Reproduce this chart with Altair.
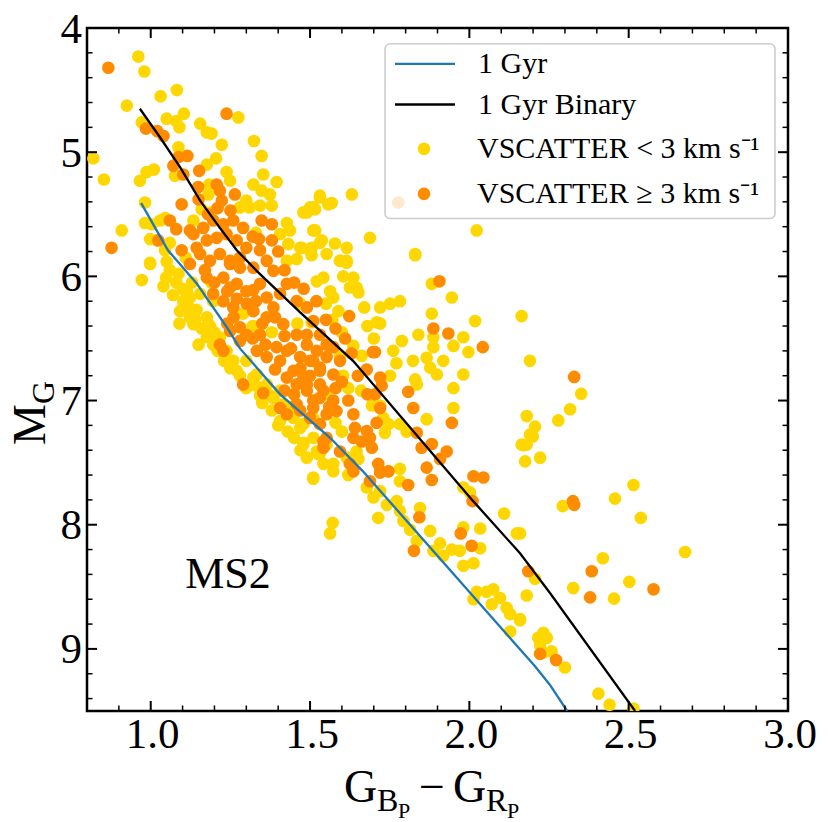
import altair as alt
import pandas as pd

# ---------------- data ----------------
L1 = "1 Gyr"
L2 = "1 Gyr Binary"
L3 = "VSCATTER < 3 km s⁻¹"
L4 = "VSCATTER ≥ 3 km s⁻¹"

iso_x = [0.97, 1.054, 1.145, 1.239, 1.28, 1.406, 1.563, 1.666, 2.206, 2.253, 2.307]
iso_y = [5.41, 5.79, 6.06, 6.41, 6.58, 6.95, 7.30, 7.57, 9.14, 9.29, 9.50]

bin_x = [0.966, 1.029, 1.092, 1.155, 1.217, 1.27, 1.334, 1.469, 1.635, 2.012, 2.159, 2.253, 2.52]
bin_y = [4.65, 4.88, 5.12, 5.39, 5.61, 5.79, 5.96, 6.29, 6.68, 7.81, 8.23, 8.55, 9.50]

yellow = [
    (0.961,4.23),(0.98,4.35),(1.082,4.50),(1.031,4.55),(0.925,4.625),(1.275,4.72),(1.104,4.69),
    (1.05,4.73),(1.08,4.75),(1.09,4.80),(0.972,4.76),(1.155,4.77),(1.176,4.84),(1.191,4.85),
    (1.223,4.94),(1.324,4.91),(1.087,4.96),(1.348,5.03),(0.82,5.05),(1.205,5.05),(1.176,5.10),
    (1.01,5.14),(0.987,5.16),(0.966,5.23),(0.853,5.22),(1.238,5.16),(1.249,5.23),(1.353,5.18),
    (1.076,5.19),(1.184,5.26),(1.181,5.34),(1.395,5.24),(1.322,5.26),(1.348,5.31),(1.374,5.34),
    (1.30,5.39),(1.28,5.445),(1.31,5.445),(1.343,5.43),(1.531,5.365),(1.557,5.42),(1.50,5.445),
    (1.479,5.485),(1.516,5.46),(1.16,5.46),(1.19,5.485),(1.38,5.43),(0.982,5.405),(1.427,5.57),
    (1.437,5.63),(0.982,5.57),(1.003,5.58),(1.03,5.55),(1.045,5.53),(1.134,5.55),(0.909,5.63),
    (0.998,5.70),(1.019,5.71),(1.06,5.73),(1.045,5.79),(0.998,5.89),(1.406,5.66),(1.432,5.74),
    (1.469,5.77),(1.50,5.79),(1.531,5.73),(1.51,5.63),(1.552,5.82),(1.427,5.875),(1.458,5.86),
    (1.33,5.65),
    (0.998,5.90),(0.972,6.03),(1.048,6.01),(1.087,5.98),(1.113,6.12),(1.092,6.28),(1.134,6.385),
    (1.176,6.33),(1.102,6.20),(1.144,6.27),(1.155,6.14),(1.196,6.20),(1.186,6.40),(1.217,6.49),
    (1.238,6.60),(1.27,6.76),(1.322,6.815),(1.364,6.87),(1.343,6.96),(1.406,6.92),(1.416,7.03),
    (1.448,7.14),(1.406,7.165),(1.469,7.22),(1.51,7.30),(1.531,7.41),(1.542,7.51),(1.479,7.34),
    (1.51,7.62),(1.526,7.43),(1.123,6.17),(1.176,6.49),(1.196,6.55),(1.123,6.33),(1.259,6.68),
    (1.30,6.68),(1.333,6.79),(1.385,6.98),
    (1.06,5.95),(1.08,6.05),(1.10,6.10),(1.12,6.25),(1.14,6.35),(1.16,6.42),(1.18,6.38),
    (1.20,6.45),(1.21,6.60),(1.23,6.68),(1.25,6.74),(1.28,6.80),(1.30,6.90),(1.33,6.88),
    (1.35,7.02),(1.38,7.08),(1.40,7.20),(1.43,7.25),(1.45,7.30),(1.47,7.40),(1.49,7.46),
    (1.44,7.05),(1.37,6.95),(1.04,6.08),(1.07,6.15),(1.09,6.38),(1.15,6.55),(1.05,5.88),
    (1.11,5.85),(1.13,6.05),
    (1.19,6.05),(1.32,6.40),(1.38,6.45),(1.29,6.30),(1.46,6.38),(1.55,6.95),(1.58,7.18),
    (1.60,7.25),(1.62,6.90),(1.66,6.92),(1.60,6.45),(1.57,6.35),(1.55,6.22),(1.67,6.25),
    (1.68,6.40),(1.70,6.50),
    (1.505,5.83),(1.594,5.875),(1.615,5.89),(1.83,5.83),(1.521,6.04),(1.542,6.01),(1.563,6.12),
    (1.573,6.17),(1.604,6.00),(1.636,6.01),(1.646,6.09),(1.625,6.09),(1.652,6.13),(1.589,6.28),
    (1.72,6.25),(1.751,6.22),(1.782,6.20),(1.882,6.06),(1.945,6.17),(1.709,6.37),(1.72,6.38),
    (1.882,6.30),(2.018,6.36),(2.164,6.32),(1.981,6.49),(1.95,6.56),(1.887,6.49),(1.887,6.57),
    (1.84,6.47),(1.788,6.52),(1.997,6.61),(1.761,6.60),(1.771,6.70),(1.823,6.68),(1.866,6.655),
    (1.918,6.68),(1.877,6.735),(1.898,6.79),(1.981,6.79),(1.83,6.83),(1.835,6.87),(1.95,6.90),
    (1.662,6.64),(1.636,6.56),(1.751,6.80),(1.95,7.06),(1.866,7.15),(1.72,7.04),(1.694,7.04),
    (1.73,7.14),(1.746,7.19),(1.735,7.26),(1.782,7.19),(1.803,7.25),(1.981,7.70),(2.002,7.74),
    (1.782,7.55),(1.782,7.65),(1.746,7.57),(2.18,7.125),(2.206,7.21),(2.19,7.275),(2.164,7.355),
    (2.18,7.355),(2.222,7.46),(2.175,7.49),(2.19,6.68),(1.646,7.41),(1.652,7.47),(1.615,7.46),
    (1.573,7.51),(1.531,7.43),(1.552,7.355),(1.521,7.41),(1.479,7.19),(1.479,7.355),(1.51,7.14),
    (1.604,6.80),(1.594,6.64),(1.469,6.22),(1.505,6.37),
    (1.531,5.35),(1.568,5.41),(1.51,5.445),(1.49,5.485),(1.631,5.34),(1.516,5.63),(1.537,5.71),
    (1.578,5.735),(1.615,5.77),(1.594,5.875),(1.615,5.875),(1.505,5.77),(1.474,5.77),(1.688,5.69),
    (1.83,5.82),(2.023,5.63),
    (2.351,6.945),(2.316,7.07),(2.279,7.16),(2.199,7.29),(2.17,7.36),(2.515,7.68),(2.457,7.79),
    (2.293,7.85),(2.538,7.945),(2.159,8.07),(2.677,8.22),(2.419,8.27),(2.206,8.435),(2.326,8.51),
    (2.502,8.46),(2.454,8.595),(2.18,8.57),(2.159,8.77),(2.232,8.87),(2.216,8.91),(2.243,8.91),
    (2.222,8.97),(2.258,9.02),(2.232,9.03),(2.30,9.15),(2.405,9.36),(2.44,9.45),(2.515,9.48),
    (1.51,7.63),(1.573,7.57),(1.62,7.60),(1.678,7.70),(1.699,7.78),(1.72,7.73),(1.741,7.84),
    (1.772,7.81),(1.782,7.89),(1.793,7.97),(1.714,7.945),(1.845,7.865),(1.877,8.05),(1.814,8.04),
    (1.835,8.13),(1.908,8.15),(1.887,8.21),(1.945,8.20),(1.918,8.25),(1.571,7.985),(1.563,8.07),
    (1.981,8.02),(2.034,8.03),(2.034,8.19),(1.981,8.33),(2.013,8.31),(1.97,8.21),(2.109,7.91),
    (2.149,8.07),(2.013,8.60),(2.023,8.54),(2.054,8.54),(2.075,8.52),(2.096,8.59),(2.07,8.64),
    (2.117,8.67),(2.128,8.72),(2.159,8.76),(2.128,8.86),
]

orange = [
    (0.867,4.32),(1.238,4.69),(0.985,4.81),(1.04,4.87),(1.02,4.83),(1.087,5.04),(1.115,5.03),
    (1.071,5.11),(1.152,5.15),(1.102,5.18),(1.207,5.26),(1.217,5.31),(1.223,5.39),(1.149,5.28),
    (1.264,5.34),(1.097,5.42),(1.348,5.55),(1.38,5.58),(1.06,5.55),(1.08,5.62),(1.123,5.63),
    (0.877,5.77),(1.024,5.71),(1.097,5.79),(1.38,5.71),
    (1.134,5.66),(1.165,5.61),(1.196,5.55),(1.228,5.58),(1.259,5.55),(1.29,5.61),(1.176,5.71),
    (1.207,5.69),(1.238,5.66),(1.27,5.71),(1.30,5.77),(1.155,5.82),(1.186,5.875),(1.217,5.82),
    (1.249,5.875),(1.28,5.93),(1.343,5.79),(1.364,5.875),(1.123,5.90),(1.144,5.77),
    (1.228,6.60),(1.217,6.55),(1.249,6.44),(1.28,6.41),(1.196,6.14),(1.228,6.20),(1.259,6.25),
    (1.301,6.22),(1.322,6.11),(1.364,6.17),(1.385,6.25),(1.406,6.14),(1.427,6.06),(1.458,6.20),
    (1.49,6.25),(1.51,6.36),(1.531,6.47),(1.552,6.55),(1.249,5.90),(1.28,5.85),
    (1.322,5.93),(1.385,5.955),(1.343,6.06),(1.27,6.06),(1.228,6.01),(1.30,6.47),
    (1.28,6.52),(1.333,6.60),(1.364,6.65),(1.395,6.57),(1.406,6.68),(1.448,6.76),(1.458,6.87),
    (1.427,6.815),(1.49,6.92),(1.51,7.00),(1.531,6.87),(1.29,6.87),(1.353,6.94),(1.406,7.06),
    (1.427,7.11),(1.458,7.03),(1.51,7.06),(1.531,7.19),(1.552,7.30),(1.542,7.38),(1.176,6.01),
    (1.249,6.09),(1.322,6.28),(1.364,6.33),(1.416,6.385),(1.343,6.47),(1.458,6.47),(1.49,6.55),
    (1.469,6.65),(1.51,6.68),(1.427,6.60),(1.531,6.76),(1.479,6.815),(1.50,7.14),(1.469,7.08),
    (1.17,5.95),(1.20,6.05),(1.24,6.12),(1.27,6.18),(1.30,6.12),(1.33,6.20),(1.35,6.38),
    (1.39,6.33),(1.42,6.48),(1.44,6.58),(1.47,6.74),(1.50,6.80),(1.53,6.98),(1.56,7.05),
    (1.58,6.90),(1.60,6.85),(1.62,7.00),(1.65,6.80),(1.68,6.95),(1.26,6.33),(1.24,6.38),
    (1.32,6.50),(1.36,6.55),(1.39,6.75),(1.42,6.92),(1.45,6.95),(1.18,5.50),(1.21,5.45),
    (1.25,5.47),(1.15,5.38),(1.32,5.68),(1.34,5.70),(1.40,5.80),(1.42,5.95),(1.45,6.05),
    (1.48,6.10),(1.52,6.20),(1.55,6.35),(1.58,6.42),(1.61,6.50),(1.63,6.62),
    (1.623,6.32),(1.906,6.04),(1.887,6.42),(1.934,6.46),(2.042,6.57),(1.704,6.61),(1.678,6.75),
    (1.72,6.815),(1.725,6.88),(1.704,6.95),(1.808,6.93),(1.824,7.06),(1.945,7.18),(1.709,7.18),
    (1.72,7.06),(1.835,7.26),(1.85,7.38),(1.882,7.35),(1.929,7.41),(1.908,7.47),(1.866,7.54),
    (1.882,7.64),(2.013,7.61),(2.044,7.62),(1.808,7.68),(1.636,7.11),(1.641,7.22),(1.678,7.245),
    (1.688,7.30),(1.694,7.38),(1.662,7.33),(1.636,7.30),(1.714,7.51),(1.72,7.57),(1.594,7.41),
    (1.625,7.51),(1.542,7.33),(1.49,6.47),(1.521,6.60),(1.552,6.65),(1.573,6.57),(1.594,6.68),
    (1.50,6.68),(1.531,6.735),(1.573,6.79),(1.49,6.87),(1.542,6.92),(1.573,7.00),
    (1.583,7.085),(1.552,7.11),(1.697,6.61),
    (1.777,5.405),
    (2.329,6.81),(2.325,7.81),(2.329,7.84),(2.384,8.375),(2.185,8.375),(2.578,8.52),(2.379,8.585),
    (2.222,9.04),(2.272,9.09),
    (1.636,7.57),(1.688,7.65),(1.72,7.58),(1.746,7.57),(1.843,7.94),(1.826,8.21),(1.973,8.07),
    (2.007,8.17),(2.01,7.81),
]

x_major = [1.0, 1.5, 2.0, 2.5, 3.0]
x_labels = ["1.0", "1.5", "2.0", "2.5", "3.0"]
x_minor = [0.9, 1.1, 1.2, 1.3, 1.4, 1.6, 1.7, 1.8, 1.9, 2.1, 2.2, 2.3, 2.4, 2.6, 2.7, 2.8, 2.9]
y_major = [4, 5, 6, 7, 8, 9]
y_labels = ["4", "5", "6", "7", "8", "9"]
y_minor = [4.2, 4.4, 4.6, 4.8, 5.2, 5.4, 5.6, 5.8, 6.2, 6.4, 6.6, 6.8, 7.2, 7.4, 7.6, 7.8,
           8.2, 8.4, 8.6, 8.8, 9.2, 9.4]

ms2_x = [1.108]
ms2_y = [8.51]

# ---------------- tables ----------------
lines_df = pd.concat([
    pd.DataFrame({"x": iso_x, "y": iso_y, "series": L1, "i": range(len(iso_x))}),
    pd.DataFrame({"x": bin_x, "y": bin_y, "series": L2, "i": range(len(bin_x))}),
])
pts_df = pd.concat([
    pd.DataFrame({"x": [p[0] for p in yellow], "y": [p[1] for p in yellow], "series": L3}),
    pd.DataFrame({"x": [p[0] for p in orange], "y": [p[1] for p in orange], "series": L4}),
])
pts_df["ord"] = (pts_df["series"] == L4).astype(int)

W, H = 701, 683
FONT = "Liberation Serif"
TICKFS = 43

xs = alt.Scale(domain=[0.8, 3.0], nice=False, zero=False)
ys = alt.Scale(domain=[4, 9.5], nice=False, zero=False, reverse=True)

line_legend = alt.Legend(
    title=None, orient="none", legendX=306.5, legendY=20.8, padding=0,
    labelFont=FONT, labelFontSize=30, labelLimit=0, labelOffset=21.5, labelColor="black",
    rowPadding=10.7, clipHeight=30, symbolType="stroke", symbolSize=3600,
    symbolStrokeWidth=2.3,
)
point_legend = alt.Legend(
    title=None, orient="none", legendX=322, legendY=105.8, padding=0,
    labelFont=FONT, labelFontSize=30, labelLimit=0, labelOffset=38, labelColor="black",
    rowPadding=15, clipHeight=30, symbolType="circle", symbolSize=160,
    symbolOpacity=1, symbolStrokeWidth=0,
)

points = alt.Chart(pts_df).mark_circle(size=160, opacity=1, clip=True).encode(
    x=alt.X("x:Q", scale=xs, axis=None),
    y=alt.Y("y:Q", scale=ys, axis=None),
    color=alt.Color("series:N", scale=alt.Scale(domain=[L3, L4], range=["#FFD700", "#FF8C00"]),
                    legend=point_legend),
    order=alt.Order("ord:Q"),
)
lines = alt.Chart(lines_df).mark_line(strokeWidth=2.3, clip=True).encode(
    x=alt.X("x:Q", scale=xs, axis=None),
    y=alt.Y("y:Q", scale=ys, axis=None),
    stroke=alt.Stroke("series:N", scale=alt.Scale(domain=[L1, L2], range=["#1f77b4", "#000000"]),
                      legend=line_legend),
    order="i:Q",
)

one = pd.DataFrame({"d": [0]})

legend_box = alt.Chart(one).mark_rect(
    fill="white", fillOpacity=0.8, stroke="#cccccc", strokeWidth=1.5, cornerRadius=5
).encode(x=alt.value(298), x2=alt.value(688), y=alt.value(15.8), y2=alt.value(190.5))


def xticks(vals, length, sw):
    base = alt.Chart(pd.DataFrame({"tx": vals})).mark_rule(color="black", strokeWidth=sw)
    xe = alt.X("tx:Q", scale=xs, axis=None)
    return [base.encode(x=xe, y=alt.value(H), y2=alt.value(H - length)),
            base.encode(x=xe, y=alt.value(0), y2=alt.value(length))]


def yticks(vals, length, sw):
    base = alt.Chart(pd.DataFrame({"ty": vals})).mark_rule(color="black", strokeWidth=sw)
    ye = alt.Y("ty:Q", scale=ys, axis=None)
    return [base.encode(y=ye, x=alt.value(0), x2=alt.value(length)),
            base.encode(y=ye, x=alt.value(W), x2=alt.value(W - length))]


ticks = xticks(x_major, 10, 2) + xticks(x_minor, 5.5, 1.5) + yticks(y_major, 10, 2) + yticks(y_minor, 5.5, 1.5)

xlab = alt.Chart(pd.DataFrame({"lx": x_major, "lt": x_labels})).mark_text(
    fontSize=TICKFS, font=FONT, align="center", baseline="alphabetic", color="black", dx=2
).encode(x=alt.X("lx:Q", scale=xs, axis=None), y=alt.value(H + 37), text="lt:N")

ylab = alt.Chart(pd.DataFrame({"ly": y_major, "lt": y_labels})).mark_text(
    fontSize=TICKFS, font=FONT, align="right", baseline="alphabetic", color="black", dy=14.5
).encode(y=alt.Y("ly:Q", scale=ys, axis=None), x=alt.value(-5), text="lt:N")

ms2 = alt.Chart(pd.DataFrame({"mx": ms2_x, "my": ms2_y})).mark_text(
    text="MS2", fontSize=44, font=FONT, align="left", baseline="alphabetic", color="black"
).encode(x=alt.X("mx:Q", scale=xs, axis=None), y=alt.Y("my:Q", scale=ys, axis=None))


def piece(txt, x, y, size, angle=0):
    kw = dict(text=txt, fontSize=size, font=FONT, align="left", baseline="alphabetic", color="black")
    if angle:
        kw["angle"] = angle
    return alt.Chart(one).mark_text(**kw).encode(x=alt.value(x), y=alt.value(y))


xb = 773.5
title_pieces = [
    piece("G", 257, xb, 46),
    piece("B", 290, xb + 9, 32),
    piece("P", 311, xb + 16, 22),
    piece("−", 332, xb, 46),
    piece("G", 366, xb, 46),
    piece("R", 399, xb + 9, 32),
    piece("P", 420, xb + 16, 22),
    piece("M", -42, 417, 46, 270),
    piece("G", -33, 376, 32, 270),
]

chart = alt.layer(points, lines, legend_box, *ticks, xlab, ylab, ms2, *title_pieces).resolve_scale(
    color="independent", stroke="independent"
).properties(
    width=W, height=H,
    autosize=alt.AutoSizeParams(type="none"),
    padding={"left": 79, "top": 20, "right": 30, "bottom": 110},
    background="white",
).configure_view(stroke="black", strokeWidth=2.5)

chart.save("out.html", embed_options={"renderer": "svg", "actions": False})
